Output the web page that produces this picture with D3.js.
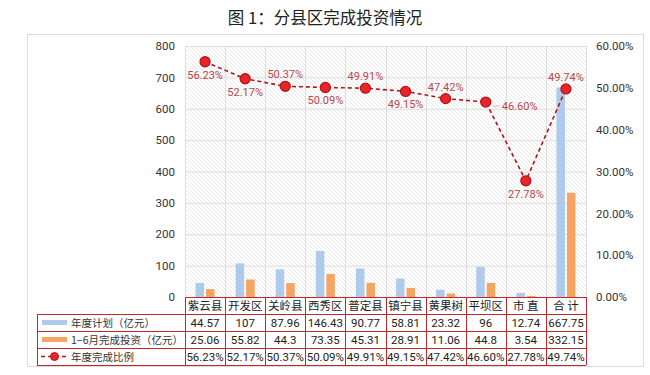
<!DOCTYPE html>
<html>
<head>
<meta charset="utf-8">
<script src="https://cdn.jsdelivr.net/npm/d3@7"></script>
<style>
  body { margin: 0; background: #fff; font-family: "Noto Sans CJK SC", "Noto Sans", sans-serif; }
  svg text { font-family: Roboto, "Noto Sans CJK SC", sans-serif; }
</style>
</head>
<body>
<svg id="chart"></svg>
<script>
const categories = ["紫云县", "开发区", "关岭县", "西秀区", "普定县", "镇宁县", "黄果树", "平坝区", "市 直", "合 计"];
const plan = [44.57, 107, 87.96, 146.43, 90.77, 58.81, 23.32, 96, 12.74, 667.75];
const done = [25.06, 55.82, 44.3, 73.35, 45.31, 28.91, 11.06, 44.8, 3.54, 332.15];
const ratio = [56.23, 52.17, 50.37, 50.09, 49.91, 49.15, 47.42, 46.60, 27.78, 49.74];
const leftTicks = [0, 100, 200, 300, 400, 500, 600, 700, 800];
const rightTicks = [0, 10, 20, 30, 40, 50, 60];
const seriesNames = ["年度计划（亿元）", "1−6月完成投资（亿元）", "年度完成比例"];
const labelSide = ["below", "below", "above", "below", "above", "below", "above", "right", "below", "above"];

const W = 650, H = 375;
const plot = { left: 185, right: 586, top: 46, bottom: 297 };
const rowH = 17;
const blue = "#aecbeb", orange = "#f5a462", red = "#e8262a", darkRed = "#b5141c", tableRed = "#c0282d";

const svg = d3.select("#chart").attr("width", W).attr("height", H);

const defs = svg.append("defs");
const pat = defs.append("pattern").attr("id", "hatch").attr("patternUnits", "userSpaceOnUse")
  .attr("width", 4).attr("height", 4);
pat.append("path").attr("d", "M-1,-1 L5,5 M3,-1 L5,1 M-1,3 L1,5").attr("stroke", "#e4e4e4").attr("stroke-width", 0.8);

// title
svg.append("text").attr("x", 325).attr("y", 24).attr("text-anchor", "middle")
  .style("font-family", "'Noto Sans CJK SC', sans-serif").style("font-size", "16.5px").attr("fill", "#222")
  .text("图 1：分县区完成投资情况");

// outer frame
svg.append("rect").attr("x", 27.5).attr("y", 34.5).attr("width", 616).attr("height", 332)
  .attr("fill", "none").attr("stroke", "#dcdcdc");

const x = d3.scaleBand().domain(categories).range([plot.left, plot.right]);
const yL = d3.scaleLinear().domain([0, 800]).range([plot.bottom, plot.top]);
const yR = d3.scaleLinear().domain([0, 60]).range([plot.bottom, plot.top]);

svg.append("rect").attr("x", plot.left).attr("y", plot.top)
  .attr("width", plot.right - plot.left).attr("height", plot.bottom - plot.top).attr("fill", "url(#hatch)");

// grid
const grid = svg.append("g").attr("stroke", "#dedede");
grid.selectAll(".h").data(leftTicks).join("line")
  .attr("x1", plot.left).attr("x2", plot.right)
  .attr("y1", d => yL(d) + 0.5).attr("y2", d => yL(d) + 0.5);
grid.selectAll(".v").data(categories.concat([null])).join("line")
  .attr("x1", (d, i) => Math.round(plot.left + i * x.bandwidth()) + 0.5)
  .attr("x2", (d, i) => Math.round(plot.left + i * x.bandwidth()) + 0.5)
  .attr("y1", plot.top).attr("y2", plot.bottom);

// axes
const axL = svg.append("g").attr("transform", `translate(${plot.left - 5},0)`)
  .call(d3.axisLeft(yL).tickValues(leftTicks).tickSize(0).tickPadding(5));
const axR = svg.append("g").attr("transform", `translate(${plot.right + 5},0)`)
  .call(d3.axisRight(yR).tickValues(rightTicks).tickSize(0).tickPadding(5).tickFormat(d => d.toFixed(2) + "%"));
[axL, axR].forEach(a => {
  a.select(".domain").remove();
  a.selectAll("text").style("font-size", "11.5px").attr("fill", "#333");
});

// bars
const bw = 8.5;
svg.append("g").selectAll("rect").data(categories).join("rect")
  .attr("x", d => x(d) + x.bandwidth() / 2 - bw - 1).attr("width", bw)
  .attr("y", (d, i) => yL(plan[i])).attr("height", (d, i) => yL(0) - yL(plan[i]))
  .attr("fill", blue);
svg.append("g").selectAll("rect").data(categories).join("rect")
  .attr("x", d => x(d) + x.bandwidth() / 2 + 1).attr("width", bw)
  .attr("y", (d, i) => yL(done[i])).attr("height", (d, i) => yL(0) - yL(done[i]))
  .attr("fill", orange);

// line
const cx = d => x(d) + x.bandwidth() / 2;
const line = d3.line().x(d => cx(d)).y((d, i) => yR(ratio[i]));
svg.append("path").datum(categories).attr("d", line).attr("fill", "none")
  .attr("stroke", darkRed).attr("stroke-width", 1.6).attr("stroke-dasharray", "4,3");
svg.append("g").selectAll("circle").data(categories).join("circle")
  .attr("cx", cx).attr("cy", (d, i) => yR(ratio[i])).attr("r", 5)
  .attr("fill", red).attr("stroke", darkRed).attr("stroke-width", 1.3);

// point labels
const labels = svg.append("g").style("font-size", "11px").attr("fill", "#b8464b");
categories.forEach((c, i) => {
  const px = cx(c), py = yR(ratio[i]), side = labelSide[i];
  const t = labels.append("text").text(ratio[i].toFixed(2) + "%");
  if (side === "above") t.attr("x", px).attr("y", py - 8).attr("text-anchor", "middle");
  else if (side === "below") t.attr("x", px).attr("y", py + 17).attr("text-anchor", "middle");
  else {
    labels.append("line").attr("x1", px + 7).attr("x2", px + 14).attr("y1", py + 4).attr("y2", py + 4)
      .attr("stroke", "#bbb");
    t.attr("x", px + 16).attr("y", py + 8);
  }
});

// data table
const tbl = svg.append("g");
const legendLeft = 37;
const rowsTop = plot.bottom + rowH;
const rows = [plan, done, ratio];
const fmt = [d => String(d), d => String(d), d => d.toFixed(2) + "%"];

// header row cells
categories.forEach((c, i) => {
  tbl.append("text").attr("x", cx(c)).attr("y", plot.bottom + 13).attr("text-anchor", "middle")
    .style("font-size", "11.5px").style("font-family", "'Noto Sans CJK SC', sans-serif").attr("fill", "#222").text(c);
});
rows.forEach((r, ri) => {
  const yy = rowsTop + ri * rowH;
  categories.forEach((c, i) => {
    tbl.append("text").attr("x", cx(c)).attr("y", yy + 13).attr("text-anchor", "middle")
      .style("font-size", "11.5px").attr("fill", "#222").text(fmt[ri](r[i]));
  });
  tbl.append("text").attr("x", 71).attr("y", yy + 12.5)
    .style("font-size", "10.5px").style("font-family", "'Noto Sans CJK SC', sans-serif").attr("fill", "#333")
    .text(seriesNames[ri]);
});
// legend keys
tbl.append("rect").attr("x", 42).attr("y", rowsTop + 6).attr("width", 25).attr("height", 5).attr("fill", blue);
tbl.append("rect").attr("x", 42).attr("y", rowsTop + rowH + 6).attr("width", 25).attr("height", 5).attr("fill", orange);
const ky = rowsTop + 2 * rowH + 8.5;
tbl.append("line").attr("x1", 41).attr("x2", 68).attr("y1", ky).attr("y2", ky)
  .attr("stroke", darkRed).attr("stroke-width", 1.6).attr("stroke-dasharray", "4,3");
tbl.append("circle").attr("cx", 54.5).attr("cy", ky).attr("r", 4).attr("fill", red).attr("stroke", darkRed);

// table borders
const tableBottom = rowsTop + 3 * rowH;
const gl = tbl.append("g").attr("stroke", tableRed).attr("stroke-width", 1);
gl.append("line").attr("x1", plot.left).attr("x2", plot.right)
  .attr("y1", plot.bottom + 0.5).attr("y2", plot.bottom + 0.5);
[0, 1, 2, 3].forEach(k => {
  const yv = rowsTop + k * rowH + 0.5;
  gl.append("line").attr("x1", legendLeft).attr("x2", plot.right).attr("y1", yv).attr("y2", yv);
});
categories.concat([null]).forEach((d, i) => {
  const xv = Math.round(plot.left + i * x.bandwidth()) + 0.5;
  gl.append("line").attr("x1", xv).attr("x2", xv).attr("y1", plot.bottom).attr("y2", tableBottom);
});
gl.append("line").attr("x1", legendLeft + 0.5).attr("x2", legendLeft + 0.5).attr("y1", rowsTop).attr("y2", tableBottom);
</script>
</body>
</html>
